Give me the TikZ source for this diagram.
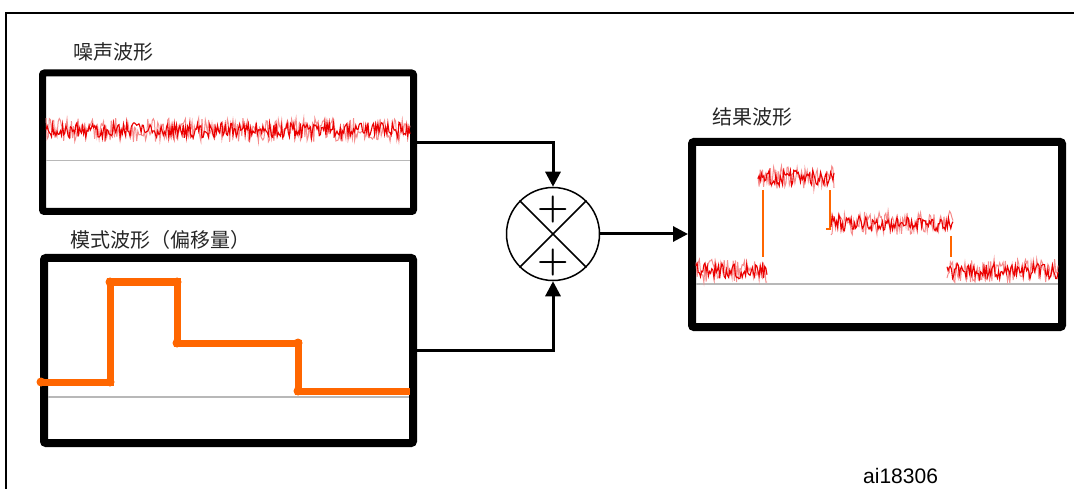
\documentclass[tikz,border=0pt]{standalone}
\usepackage{fontspec}
\newfontfamily\cjk{Noto Sans CJK SC}
\newfontfamily\aifont{Liberation Sans}
\usetikzlibrary{arrows.meta,positioning}
\definecolor{steporange}{RGB}{255,102,0}
\definecolor{noisered}{RGB}{235,0,0}

\tikzset{
  wavebox/.style={draw,line width=7pt,rounded corners=2pt,inner sep=0pt},
  caption/.style={anchor=west,inner sep=0pt,text=black!85,font=\cjk\fontsize{20}{22}\selectfont},
  zeroline/.style={draw=black!28,line width=1.5pt},
  stepline/.style={steporange,line width=7pt},
  thinstep/.style={steporange,line width=1.5pt},
  noisecore/.style={noisered,line width=1.1pt},
  noisefringe/.style={noisered!45,line width=1pt},
  link/.style={line width=3pt,-{Triangle[length=15pt,width=15pt]}},
  plussign/.style={inner sep=0pt,font=\fontsize{36}{36}\selectfont\bfseries}
}

% a strip of noise from x=#1 to x=#2 round the level #3
\newcommand{\noisestrip}[3]{%
  \pgfmathtruncatemacro{\nsmp}{(#2-#1)/1.1}%
  \draw[noisefringe] plot[domain=#1:#2,samples=\nsmp] (\x,{#3+12*rand});
  \draw[noisecore] plot[domain=#1:#2,samples=\nsmp] (\x,{#3+8*rand});
}

\begin{document}
\begin{tikzpicture}[x=1pt,y=-1pt,>=Latex]
  \useasboundingbox (0,0) rectangle (1074,489);
  \pgfmathsetseed{18306}
  \draw[line width=2pt] (1090,13) -- (6,13) -- (6,500);

  % the three waveform boxes and the adder
  \node[wavebox,minimum width=371pt,minimum height=138.5pt] (noise) at (228,142.25) {};
  \node[wavebox,line width=8pt,minimum width=369pt,minimum height=185pt] (offset) at (228.5,350.5) {};
  \node[wavebox,line width=8pt,minimum width=370pt,minimum height=185pt] (result) at (877,234.5) {};
  \node[draw,circle,line width=1.5pt,minimum size=93pt,inner sep=0pt] (sum) at (553,234) {};
  \draw[line width=1.5pt] (sum.north west) -- (sum.south east) (sum.north east) -- (sum.south west);
  \node[plussign] (plusa) at (553,210) {+};
  \node[plussign] (plusb) at (553,263) {+};

  % labels
  \node[caption] (noiselbl) at (73,52) {噪声波形};
  \node[caption] (offsetlbl) at (70,240) {模式波形（偏移量）};
  \node[caption] (resultlbl) at (712,117) {结果波形};
  \node[anchor=west,inner sep=0pt,font=\aifont\fontsize{21}{24}\selectfont] (figid) at (863,476) {ai18306};

  % connectors
  \draw[link] (noise.east) -| (sum.north);
  \draw[link] (offset.east) -| (sum.south);
  \draw[link] (sum.east) -- (sum.east -| result.west);

  % noise waveform
  \draw[zeroline] (46,160.7) -- (410,160.7);
  \noisestrip{46}{410}{130}

  % offset waveform
  \draw[zeroline] (48,397) -- (409,397);
  \draw[stepline] (40,382) -- (110,382) -- (110,282) -- (177,282) -- (177,343)
    -- (298,343) -- (298,391) -- (410,391);
  \foreach \p in {(41,382),(110,382),(110,282),(177,282),(177,343),(298,343),(298,391)}
    \fill[steporange] \p circle (4.5pt);

  % resulting waveform
  \draw[zeroline] (696,284) -- (1058,284);
  \draw[thinstep] (763,190) -- (763,257);
  \draw[thinstep] (826,229) -- (830,229) -- (830,190);
  \draw[thinstep] (951,236) -- (951,257);
  \noisestrip{696}{767}{271}
  \noisestrip{758}{834}{178}
  \noisestrip{831}{953}{223}
  \noisestrip{947}{1058}{271}
\end{tikzpicture}
\end{document}
